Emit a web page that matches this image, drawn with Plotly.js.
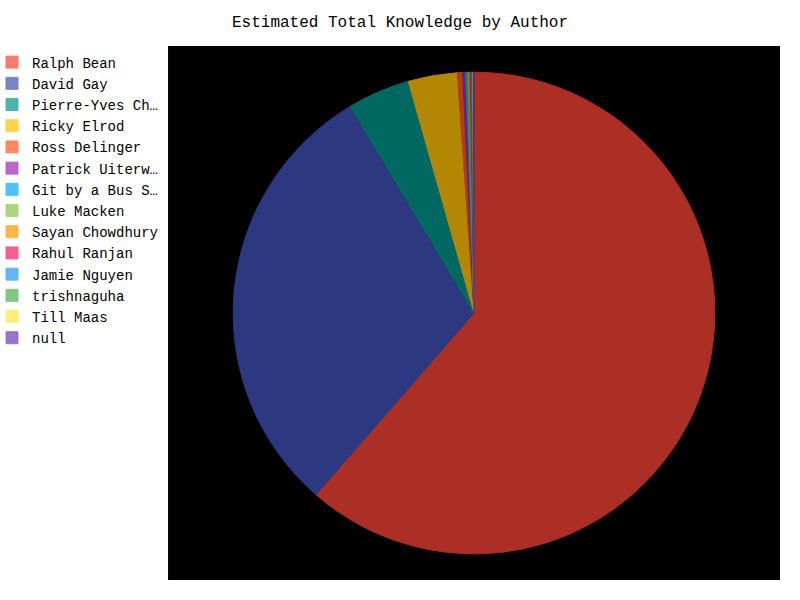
<!DOCTYPE html>
<html>
<head>
<meta charset="utf-8">
<script src="https://cdn.plot.ly/plotly-3.0.1.min.js"></script>
<style>html,body{margin:0;padding:0;background:#fff;overflow:hidden;}#chart{width:808px;height:600px;margin-left:-8px;}</style>
</head>
<body>
<div id="chart"></div>
<script>
const authors = ["Ralph Bean", "David Gay", "Pierre-Yves Ch…", "Ricky Elrod", "Ross Delinger", "Patrick Uiterw…", "Git by a Bus S…", "Luke Macken", "Sayan Chowdhury", "Rahul Ranjan", "Jamie Nguyen", "trishnaguha", "Till Maas", "null"];
const knowledge = [61.4, 30.0, 4.2, 3.3, 0.35, 0.18, 0.13, 0.10, 0.09, 0.07, 0.06, 0.05, 0.04, 0.03];
const sliceColors = ["#F44336", "#3F51B5", "#009688", "#FFC107", "#FF5722", "#9C27B0", "#03A9F4", "#8BC34A", "#FF9800", "#E91E63", "#2196F3", "#4CAF50", "#FFEB3B", "#673AB7"];

const FONT = "'Liberation Mono', 'Courier New', monospace";

const trace = {
  type: "pie",
  labels: authors,
  values: knowledge,
  sort: false,
  direction: "clockwise",
  rotation: 0,
  textinfo: "none",
  hoverinfo: "label+percent",
  opacity: 0.7,
  marker: {colors: sliceColors, line: {color: sliceColors, width: 1}},
  domain: {x: [0.2310, 0.9924], y: [0.049, 0.951]}
};

const layout = {
  width: 808,
  height: 600,
  paper_bgcolor: "#ffffff",
  margin: {l: 0, r: 20, t: 46, b: 20},
  font: {family: FONT, size: 14, color: "#000"},
  title: {text: "Estimated Total Knowledge by Author", font: {family: FONT, size: 16, color: "#000"}, x: 0.5050, xref: "container", xanchor: "center", y: 0.965, yanchor: "middle"},
  showlegend: true,
  legend: {x: 0, xanchor: "left", y: 0.999, yanchor: "top", tracegroupgap: 0, font: {family: FONT, size: 14, color: "#000"}, bgcolor: "rgba(0,0,0,0)", itemwidth: 30},
  shapes: [{type: "rect", xref: "paper", yref: "paper", x0: 0.2234, x1: 1, y0: 0, y1: 1, fillcolor: "#000", line: {width: 0}, layer: "below"}]
};

Plotly.newPlot("chart", [trace], layout, {displayModeBar: false});
</script>
</body>
</html>
